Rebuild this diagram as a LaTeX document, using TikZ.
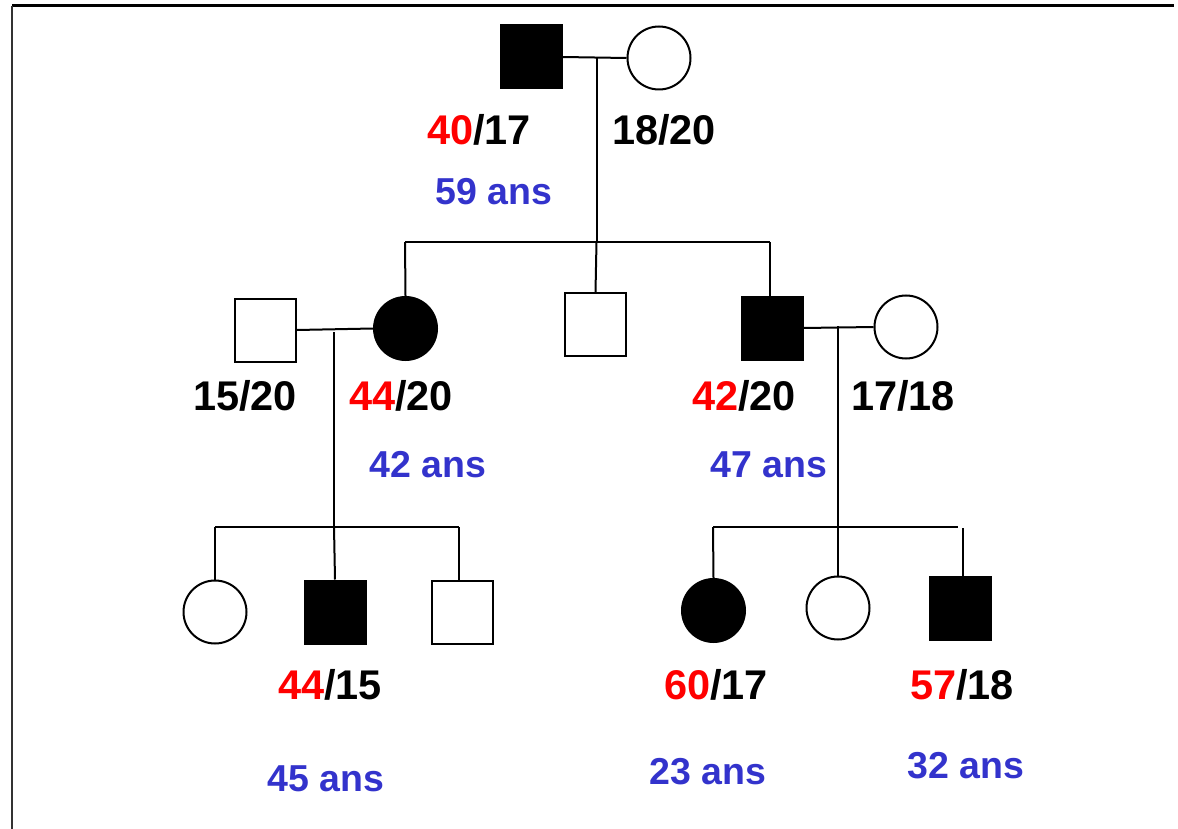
\documentclass[tikz,border=0pt]{standalone}
\usepackage{fontspec}
\setmainfont{Liberation Sans}
\definecolor{agered}{RGB}{255,0,0}
\definecolor{ageblue}{RGB}{51,51,204}
\begin{document}
\begin{tikzpicture}[x=1pt,y=-1pt,
  line width=2pt,
  male/.style={draw=black,rectangle,inner sep=0pt,minimum width=61pt,minimum height=63pt},
  female/.style={draw=black,circle,inner sep=0pt,minimum size=63pt},
  affected/.style={fill=black},
  num/.style={anchor=base,inner sep=0pt,font=\bfseries\fontsize{41.5}{48}\selectfont},
  age/.style={anchor=base,inner sep=0pt,text=ageblue,font=\bfseries\fontsize{37.5}{44}\selectfont},
  link/.style={line width=2pt}]
\useasboundingbox (0,0) rectangle (1178,829);
% frame
\draw[line width=3pt] (12,6) -- (1174,6);
\draw[line width=2pt,black!80] (12,6) -- (12,829);

% generation I
\node[male,affected] (g1m) at (531,57) {};
\node[female] (g1f) at (659,58) {};
% generation II
\node[male] (g2sp) at (265.5,330) {};
\node[female,affected] (g2a) at (405.5,328.5) {};
\node[male] (g2b) at (595.5,324.5) {};
\node[male,affected] (g2c) at (772,328) {};
\node[female] (g2sp2) at (906,327) {};
% generation III
\node[female] (g3a) at (215,612) {};
\node[male,affected] (g3b) at (335,612) {};
\node[male] (g3c) at (462,612) {};
\node[female,affected] (g3d) at (713.5,610.5) {};
\node[female] (g3e) at (838,608) {};
\node[male,affected] (g3f) at (960.5,608.5) {};

% helper points for the sibships
\coordinate (m1) at (596.5,57.7);
\coordinate (s1) at (596.5,242);
\coordinate (s1l) at (405,242);
\coordinate (s1r) at (770,242);
\coordinate (m2) at (334,332);
\coordinate (s2) at (334,527);
\coordinate (s2l) at (215,527);
\coordinate (s2r) at (459,527);
\coordinate (m3) at (838,326);
\coordinate (s3) at (838,527);
\coordinate (s3l) at (713,527);
\coordinate (s3r) at (958,527);
\coordinate (s3f) at (963,528);

% generation I couple and offspring
\draw[link] (g1m.east) -- (g1f.west);
\draw[link] (m1) -- (s1);
\draw[link] (s1l) -- (s1r);
\draw[link] (s1l) -- (g2a.north);
\draw[link] (s1) -- (g2b.north);
\draw[link] (s1r) -- (g2c.north -| s1r);

% left couple of generation II
\draw[link] (g2sp.east) -- (g2a.west);
\draw[link] (m2) -- (s2);
\draw[link] (s2l) -- (s2r);
\draw[link] (s2l) -- (g3a.north);
\draw[link] (s2) -- (g3b.north);
\draw[link] (s2r) -- (g3c.north -| s2r);

% right couple of generation II
\draw[link] (g2c.east) -- (g2sp2.west);
\draw[link] (m3) -- (s3);
\draw[link] (s3l) -- (s3r);
\draw[link] (s3l) -- (g3d.north);
\draw[link] (s3) -- (g3e.north);
\draw[link] (s3f) -- (g3f.north -| s3f);

% genotypes and ages
\node[num] (l1m) at (479,145) {\textcolor{agered}{40}/17};
\node[num] (l1f) at (664,145) {18/20};
\node[age] (a1m) at (494,205) {59 ans};

\node[num] (l2sp) at (245,410) {15/20};
\node[num] (l2a) at (401,410) {\textcolor{agered}{44}/20};
\node[age] (a2a) at (428,477) {42 ans};
\node[num] (l2c) at (744,410) {\textcolor{agered}{42}/20};
\node[num] (l2sp2) at (903,410) {17/18};
\node[age] (a2c) at (769,477) {47 ans};

\node[num] (l3b) at (330,699) {\textcolor{agered}{44}/15};
\node[num] (l3d) at (716,699) {\textcolor{agered}{60}/17};
\node[num] (l3f) at (962,699) {\textcolor{agered}{57}/18};
\node[age] (a3b) at (326,791) {45 ans};
\node[age] (a3d) at (708,784) {23 ans};
\node[age] (a3f) at (966,778) {32 ans};
\end{tikzpicture}
\end{document}
